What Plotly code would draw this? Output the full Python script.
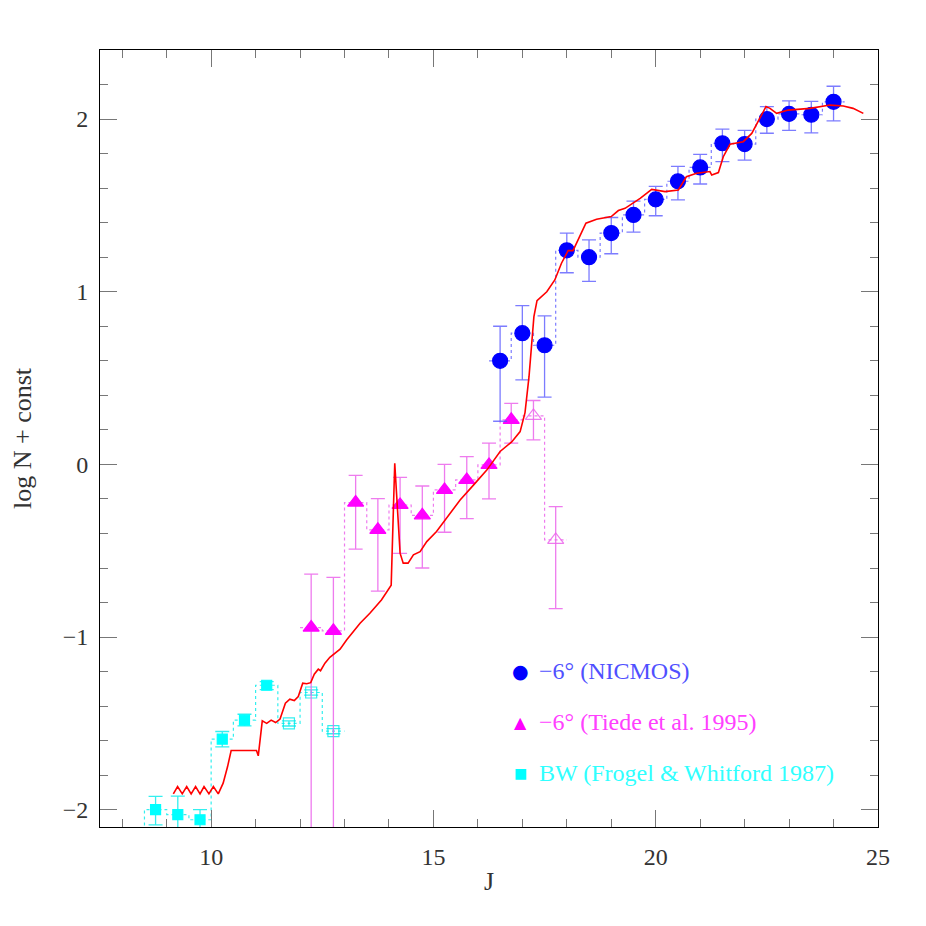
import plotly.graph_objects as go

# ---------------- data ----------------
# NICMOS (-6 deg)
nic_J = [16.5, 17.0, 17.5, 18.0, 18.5, 19.0, 19.5, 20.0, 20.5, 21.0, 21.5, 22.0, 22.5, 23.0, 23.5, 24.0]
nic_y = [0.60, 0.76, 0.69, 1.24, 1.20, 1.34, 1.445, 1.535, 1.64, 1.72, 1.86, 1.855, 2.00, 2.03, 2.025, 2.10]
nic_ep = [0.20, 0.16, 0.17, 0.10, 0.10, 0.09, 0.08, 0.075, 0.086, 0.076, 0.082, 0.08, 0.072, 0.075, 0.078, 0.09]
nic_em = [0.35, 0.27, 0.30, 0.13, 0.14, 0.12, 0.10, 0.095, 0.108, 0.096, 0.107, 0.093, 0.082, 0.096, 0.105, 0.11]

# Tiede et al. 1995 (-6 deg), filled
tie_J = [12.25, 12.75, 13.25, 13.75, 14.25, 14.75, 15.25, 15.75, 16.25, 16.75]
tie_y = [-0.945, -0.964, -0.221, -0.379, -0.235, -0.295, -0.148, -0.09, -0.003, 0.258]
tie_ep = [0.31, 0.31, 0.157, 0.181, 0.16, 0.17, 0.148, 0.135, 0.126, 0.096]
tie_em = [3.0, 3.0, 0.27, 0.355, 0.28, 0.305, 0.245, 0.224, 0.197, 0.135]
# Tiede, open (incomplete)
tio_J = [17.25, 17.75]
tio_y = [0.281, -0.437]
tio_ep = [0.089, 0.193]
tio_em = [0.139, 0.398]

# BW (Frogel & Whitford 1987), filled
bw_J = [8.75, 9.25, 9.75, 10.25, 10.75, 11.25]
bw_y = [-1.999, -2.028, -2.058, -1.591, -1.481, -1.279]
bw_ep = [0.076, 0.107, 0.059, 0.044, 0.034, 0.021]
bw_em = [0.089, 0.30, 0.30, 0.045, 0.033, 0.025]
# BW, open
bwo_J = [11.75, 12.25, 12.75]
bwo_y = [-1.50, -1.321, -1.545]
bwo_e = [0.015, 0.015, 0.015]

# model (red line)
mod_J = [9.15, 9.245, 9.35, 9.45, 9.55, 9.65, 9.75, 9.84, 9.95, 10.05, 10.16, 10.27, 10.37, 10.45,
         11.02, 11.06, 11.15, 11.25, 11.35, 11.45, 11.55, 11.67, 11.77, 11.87, 11.96, 12.06, 12.15,
         12.24, 12.32, 12.41, 12.46, 12.56, 12.67, 12.79, 12.90, 13.05, 13.20, 13.35, 13.57, 13.83,
         14.05, 14.13, 14.25, 14.32, 14.43, 14.55, 14.70, 14.85, 15.07, 15.30, 15.60, 15.90, 16.20,
         16.50, 16.76, 16.95, 17.06, 17.15, 17.21, 17.26, 17.33, 17.55, 17.73, 17.88, 18.03, 18.14,
         18.43, 18.67, 19.0, 19.16, 19.31, 19.65, 19.91, 20.21, 20.51, 20.69, 20.92, 21.22, 21.26,
         21.41, 21.52, 21.67, 21.97, 22.16, 22.34, 22.48, 22.57, 22.72, 22.98, 23.47, 23.92, 24.22,
         24.44, 24.67]
mod_y = [-1.908, -1.866, -1.908, -1.866, -1.908, -1.866, -1.908, -1.866, -1.908, -1.866, -1.908,
         -1.846, -1.75, -1.657, -1.657, -1.688, -1.485, -1.50, -1.481, -1.495, -1.475, -1.383, -1.36,
         -1.368, -1.344, -1.267, -1.27, -1.264, -1.215, -1.186, -1.195, -1.151, -1.117, -1.094, -1.07,
         -1.016, -0.97, -0.92, -0.862, -0.785, -0.70, 0.007, -0.514, -0.572, -0.572, -0.524, -0.505,
         -0.447, -0.389, -0.312, -0.206, -0.12, -0.033, 0.075, 0.13, 0.19, 0.30, 0.508, 0.72, 0.856,
         0.948, 1.0, 1.068, 1.165, 1.238, 1.238, 1.397, 1.42, 1.435, 1.47, 1.483, 1.541, 1.593, 1.58,
         1.589, 1.666, 1.686, 1.696, 1.676, 1.69, 1.782, 1.854, 1.869, 1.917, 2.004, 2.072, 2.062,
         2.033, 2.052, 2.062, 2.081, 2.076, 2.062, 2.033]

legend_labels = ["\u22126\u00b0 (NICMOS)", "\u22126\u00b0 (Tiede et al. 1995)", "BW (Frogel & Whitford 1987)"]

HALF = 0.25  # half bin width


def step(xs, ys):
    x = [xs[0] - HALF] + list(xs) + [xs[-1] + HALF]
    y = [ys[0]] + list(ys) + [ys[-1]]
    return x, y


BLUE = "#0000ff"
BLUE_E = "rgba(80,80,255,0.75)"
MAG = "#ff00ff"
MAG_E = "rgba(235,100,235,0.85)"
CYAN = "#00ffff"
CYAN_E = "rgba(0,235,235,0.8)"

fig = go.Figure()

# step histograms (dotted)
sx, sy = step(bw_J + bwo_J, bw_y + bwo_y)
sx = [sx[0]] + sx
sy = [-2.3] + sy
fig.add_trace(go.Scatter(x=sx, y=sy, mode="lines", line=dict(color=CYAN_E, width=1.2, dash="dot", shape="hvh"),
                         hoverinfo="skip", showlegend=False))
sx, sy = step(tie_J + tio_J, tie_y + tio_y)
fig.add_trace(go.Scatter(x=sx, y=sy, mode="lines", line=dict(color=MAG_E, width=1.2, dash="dot", shape="hvh"),
                         hoverinfo="skip", showlegend=False))
sx, sy = step(nic_J, nic_y)
fig.add_trace(go.Scatter(x=sx, y=sy, mode="lines", line=dict(color=BLUE_E, width=1.2, dash="dot", shape="hvh"),
                         hoverinfo="skip", showlegend=False))


def pts(x, y, ep, em, sym, color, ecolor, size):
    fig.add_trace(go.Scatter(
        x=x, y=y, mode="markers",
        marker=dict(symbol=sym, color=color, size=size, line=dict(color=color, width=1.2)),
        error_y=dict(type="data", symmetric=False, array=ep, arrayminus=em,
                     color=ecolor, thickness=1.3, width=7),
        showlegend=False))


pts(bw_J, bw_y, bw_ep, bw_em, "square", CYAN, CYAN_E, 10)
pts(bwo_J, bwo_y, bwo_e, bwo_e, "square-open", CYAN_E, CYAN_E, 11)
pts(tie_J, tie_y, tie_ep, tie_em, "triangle-up", MAG, MAG_E, 14)
pts(tio_J, tio_y, tio_ep, tio_em, "triangle-up-open", MAG_E, MAG_E, 14)
pts(nic_J, nic_y, nic_ep, nic_em, "circle", BLUE, BLUE_E, 15)

# model line
fig.add_trace(go.Scatter(x=mod_J, y=mod_y, mode="lines", line=dict(color="#ff0000", width=1.6),
                         showlegend=False))

# legend as annotations
leg_sym = ["\u25cf", "\u25b2", "\u25a0"]
leg_sym_size = [19, 16, 14]
leg_col = [BLUE, MAG, CYAN]
leg_txtcol = ["#5050ff", "#ff40ff", "#30ffff"]
leg_y = [0.2008, 0.1351, 0.0695]
for s, ss, c, tc, yy, lab in zip(leg_sym, leg_sym_size, leg_col, leg_txtcol, leg_y, legend_labels):
    fig.add_annotation(x=0.54, y=yy, xref="paper", yref="paper", text=s, showarrow=False,
                       font=dict(color=c, size=ss, family="DejaVu Sans"), xanchor="center", yanchor="middle")
    fig.add_annotation(x=0.5617, y=yy, xref="paper", yref="paper", text=lab, showarrow=False,
                       font=dict(color=tc, size=24, family="Liberation Serif"), xanchor="left", yanchor="middle")

axis_common = dict(
    showgrid=False, zeroline=False, showline=True, linecolor="black", linewidth=1,
    mirror="allticks", ticks="inside", ticklen=17, tickwidth=1, tickcolor="#777",
    tickfont=dict(family="Liberation Serif", size=24, color="#333"),
)

fig.update_xaxes(range=[7.5, 25], tickmode="linear", tick0=0, dtick=5,
                 minor=dict(ticks="inside", ticklen=8, tickcolor="#777", dtick=1, tick0=0, showgrid=False),
                 title=dict(text="J", font=dict(family="Liberation Serif", size=26, color="#333"), standoff=3),
                 ticklabelstandoff=8, **axis_common)
fig.update_yaxes(range=[-2.1, 2.4], tickmode="linear", tick0=0, dtick=1,
                 minor=dict(ticks="inside", ticklen=8, tickcolor="#777", dtick=0.2, tick0=0, showgrid=False),
                 title=dict(text="log N + const", font=dict(family="Liberation Serif", size=26, color="#333"), standoff=24),
                 ticklabelstandoff=6, **axis_common)

fig.update_layout(width=926, height=926, plot_bgcolor="white", paper_bgcolor="white",
                  margin=dict(l=92, r=56, t=42, b=107), showlegend=False)

fig.write_html("out.html")
